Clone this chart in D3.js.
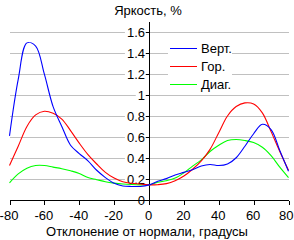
<!DOCTYPE html>
<html>
<head>
<meta charset="utf-8">
<script src="https://cdn.jsdelivr.net/npm/d3@7"></script>
<style>
  html, body { margin: 0; padding: 0; background: #fff; }
  svg { display: block; font-family: Arial, "Liberation Sans", sans-serif; }
</style>
</head>
<body>
<div id="chart"></div>
<script>
// angle, degrees
const angles = [-80, -75, -70, -65, -60, -55, -50, -45, -40, -35, -30, -25, -20, -15, -10, -5,
  0, 5, 10, 15, 20, 25, 30, 35, 40, 45, 50, 55, 60, 65, 70, 75, 80];

const vert = [0.61, 1.15, 1.50, 1.47, 1.20, 0.89, 0.70, 0.52, 0.44, 0.37, 0.28, 0.21, 0.155, 0.13, 0.125, 0.125,
  0.14, 0.175, 0.20, 0.235, 0.26, 0.285, 0.32, 0.335, 0.325, 0.34, 0.40, 0.51, 0.63, 0.72, 0.67, 0.47, 0.27];
const hor = [0.325, 0.51, 0.70, 0.81, 0.845, 0.825, 0.77, 0.66, 0.54, 0.43, 0.34, 0.26, 0.205, 0.17, 0.155, 0.148,
  0.14, 0.142, 0.152, 0.18, 0.225, 0.29, 0.37, 0.48, 0.64, 0.80, 0.89, 0.925, 0.915, 0.83, 0.65, 0.46, 0.28];
const diag = [0.16, 0.245, 0.30, 0.325, 0.325, 0.31, 0.295, 0.275, 0.25, 0.21, 0.19, 0.17, 0.157, 0.148, 0.143, 0.14,
  0.14, 0.165, 0.18, 0.205, 0.255, 0.32, 0.38, 0.46, 0.52, 0.565, 0.575, 0.565, 0.545, 0.50, 0.42, 0.31, 0.21];

const seriesNames = ['Верт.', 'Гор.', 'Диаг.'];
const seriesColors = ['#0000ff', '#ff0000', '#00ff00'];
const xTicks = [-80, -60, -40, -20, 0, 20, 40, 60, 80];
const yTicks = [0, 0.2, 0.4, 0.6, 0.8, 1, 1.2, 1.4, 1.6];

const title = 'Яркость, %';
const xTitle = 'Отклонение от нормали, градусы';

const width = 294, height = 240;

const svg = d3.select('#chart').append('svg')
  .attr('width', width)
  .attr('height', height);

const x = d3.scaleLinear().domain([-80, 80]).range([9.5, 288.5]);
const y = d3.scaleLinear().domain([0, 1.7]).range([199.5, 22]);

/* ---------- grid ---------- */
svg.append('g').selectAll('line').data(yTicks.filter(d => d > 0)).enter().append('line')
  .attr('x1', x(-80)).attr('x2', x(80))
  .attr('y1', d => Math.round(y(d)) + 0.5).attr('y2', d => Math.round(y(d)) + 0.5)
  .attr('stroke', '#c0c0c0')
  .attr('shape-rendering', 'crispEdges');

/* ---------- y labels with white boxes ---------- */
const yLab = svg.append('g');
const fmt = d => d === 0 ? '0' : String(d);
yTicks.forEach(d => {
  const g = yLab.append('g');
  const rect = g.append('rect').attr('fill', '#fff');
  const t = g.append('text')
    .attr('x', x(0) - 4)
    .attr('y', Math.round(y(d)) + 4.5)
    .attr('text-anchor', 'end')
    .attr('font-size', '13px')
    .attr('fill', '#000')
    .text(fmt(d));
  const b = t.node().getBBox();
  rect.attr('x', b.x - 2).attr('y', b.y).attr('width', b.width + 2).attr('height', b.height);
});

/* ---------- axes ---------- */
const xAxis = d3.axisBottom(x).tickValues(xTicks).tickSize(4).tickFormat(d => d);
svg.append('g')
  .attr('transform', `translate(0,${Math.round(y(0)) + 0.5})`)
  .call(xAxis)
  .call(g => g.select('.domain').attr('d', `M${x(-80)},0H${x(80)}`))
  .call(g => g.selectAll('line, path').attr('shape-rendering', 'crispEdges'))
  .call(g => g.selectAll('text')
    .attr('font-size', '13px')
    .attr('font-family', 'Arial, "Liberation Sans", sans-serif')
    .attr('dy', '0.95em').attr('y', 7)
    .attr('x', d => d === 80 ? -2.5 : -1))
  .call(g => g.selectAll('.tick').filter(d => d === 80).select('text')
    .attr('text-anchor', 'end').attr('x', 4.5));

const yAxis = d3.axisLeft(y).tickValues(yTicks).tickSize(4).tickFormat('');
svg.append('g')
  .attr('transform', `translate(${Math.round(x(0)) + 0.5},0)`)
  .call(yAxis)
  .call(g => g.select('.domain').attr('d', `M0,${y(1.7)}V${y(0)}`))
  .call(g => g.selectAll('line, path').attr('shape-rendering', 'crispEdges'));

/* ---------- curves ---------- */
const line = d3.line()
  .x((d, i) => x(angles[i]))
  .y(d => y(d))
  .curve(d3.curveCatmullRom.alpha(0.5));

[diag, hor, vert].forEach((s, k) => {
  const idx = 2 - k;
  svg.append('path')
    .datum(s)
    .attr('d', line)
    .attr('fill', 'none')
    .attr('stroke', seriesColors[idx])
    .attr('stroke-width', 1.1);
});

/* ---------- legend ---------- */
const legend = svg.append('g');
legend.append('rect')
  .attr('x', 168).attr('y', 38).attr('width', 64).attr('height', 55)
  .attr('fill', '#fff');
seriesNames.forEach((name, i) => {
  const ly = 48.5 + i * 18;
  legend.append('line')
    .attr('x1', 170).attr('x2', 197)
    .attr('y1', ly).attr('y2', ly)
    .attr('stroke', seriesColors[i])
    .attr('shape-rendering', 'crispEdges');
  legend.append('text')
    .attr('x', 201).attr('y', ly + 4.5)
    .attr('font-size', '13px')
    .text(name);
});

/* ---------- titles ---------- */
svg.append('text')
  .attr('x', 148).attr('y', 15)
  .attr('text-anchor', 'middle')
  .attr('font-size', '13px')
  .text(title);

svg.append('text')
  .attr('x', 147).attr('y', 236)
  .attr('text-anchor', 'middle')
  .attr('font-size', '13px')
  .text(xTitle);
</script>
</body>
</html>
